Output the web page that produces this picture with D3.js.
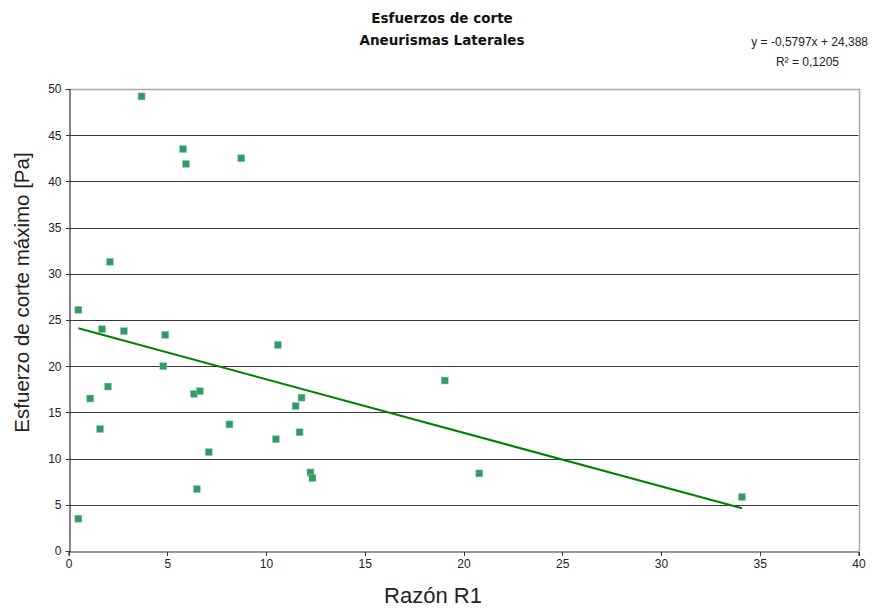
<!DOCTYPE html>
<html>
<head>
<meta charset="utf-8">
<script src="https://cdn.jsdelivr.net/npm/d3@7"></script>
<style>
  html, body { margin: 0; padding: 0; background: #fff; }
  svg { display: block; }
  text { font-family: "Liberation Sans", Arial, sans-serif; }
</style>
</head>
<body>
<svg id="chart" width="872" height="608"></svg>
<script>
// Razón R1 vs. maximum shear stress, lateral aneurysms
const razonR1 = [
  0.5, 1.7, 2.8, 4.9, 4.8, 10.6, 1.1, 2.0, 1.6, 6.35,
  6.65, 7.1, 8.15, 6.5, 0.5, 10.5, 11.5, 11.8, 11.7, 12.25,
  12.35, 3.7, 5.8, 5.95, 8.75, 2.1, 19.05, 20.8, 34.1
];
const esfuerzoMax = [
  26.1, 24.0, 23.8, 23.4, 20.0, 22.3, 16.5, 17.8, 13.2, 17.0,
  17.3, 10.7, 13.7, 6.7, 3.5, 12.1, 15.7, 16.6, 12.85, 8.5,
  7.9, 49.2, 43.5, 41.9, 42.5, 31.3, 18.45, 8.4, 5.85
];
const xTicks = [0, 5, 10, 15, 20, 25, 30, 35, 40];
const yTicks = [0, 5, 10, 15, 20, 25, 30, 35, 40, 45, 50];

// Linear trend line as reported on the chart
const trendSlope = -0.5797;
const trendIntercept = 24.388;
const trendLabel = "y = -0,5797x + 24,388";
const r2Label = "R\u00B2 = 0,1205";

const titleLines = ["Esfuerzos de corte", "Aneurismas Laterales"];
const xTitle = "Razón R1";
const yTitle = "Esfuerzo de corte máximo [Pa]";

const svg = d3.select("#chart");

const plot = { left: 68.5, right: 858.5, top: 89, bottom: 551 };

const x = d3.scaleLinear().domain([0, 40]).range([plot.left, plot.right]);
const y = d3.scaleLinear().domain([0, 50]).range([plot.bottom, plot.top]);

// horizontal gridlines
svg.append("g")
  .selectAll("line")
  .data(yTicks.filter(d => d > 0 && d < 50))
  .join("line")
  .attr("x1", plot.left).attr("x2", plot.right)
  .attr("y1", d => Math.round(y(d)) + 0.5)
  .attr("y2", d => Math.round(y(d)) + 0.5)
  .attr("stroke", "#3a3a3a")
  .attr("stroke-width", 1);

// plot-area frame (top and right)
svg.append("path")
  .attr("d", `M${plot.left},${Math.round(y(50)) + 0.5}H${Math.round(plot.right) + 0.5}V${plot.bottom}`)
  .attr("fill", "none")
  .attr("stroke", "#a8a8a8")
  .attr("stroke-width", 1.5);

// axes
const xAxis = d3.axisBottom(x).tickValues(xTicks).tickSize(4).tickPadding(4)
  .tickFormat(d3.format("d"));
const yAxis = d3.axisLeft(y).tickValues(yTicks).tickSize(4).tickPadding(4)
  .tickFormat(d3.format("d"));

const gx = svg.append("g")
  .attr("transform", `translate(0,${Math.round(plot.bottom) + 0.5})`)
  .call(xAxis);
const gy = svg.append("g")
  .attr("transform", `translate(${Math.round(plot.left) + 0.5},0)`)
  .call(yAxis);

[gx, gy].forEach(g => {
  g.select(".domain").attr("stroke", "#333").attr("stroke-width", 1.2);
  g.selectAll(".tick line").attr("stroke", "#333");
  g.selectAll(".tick text")
    .attr("fill", "#222")
    .style("font-family", "'Liberation Sans', Arial, sans-serif")
    .style("font-size", "12px");
});
gy.selectAll(".tick line").attr("shape-rendering", "crispEdges");
gx.selectAll(".tick line").attr("shape-rendering", "crispEdges");

// trend line across the data range
const [xMin, xMax] = d3.extent(razonR1);
const line = d3.line().x(d => x(d)).y(d => y(trendSlope * d + trendIntercept));
svg.append("path")
  .datum([xMin, xMax])
  .attr("d", line)
  .attr("fill", "none")
  .attr("stroke", "#008000")
  .attr("stroke-width", 2);

// data points
const pts = d3.zip(razonR1, esfuerzoMax);
const size = 7;
svg.append("g")
  .selectAll("rect")
  .data(pts)
  .join("rect")
  .attr("x", d => x(d[0]) - size / 2)
  .attr("y", d => y(d[1]) - size / 2)
  .attr("width", size)
  .attr("height", size)
  .attr("fill", "#339966")
  .attr("stroke", "#8fd0b0")
  .attr("stroke-width", 0.5);

// titles
svg.append("g")
  .selectAll("text")
  .data(titleLines)
  .join("text")
  .attr("x", 442)
  .attr("y", (d, i) => 23 + i * 22)
  .attr("text-anchor", "middle")
  .style("font-family", "'DejaVu Sans', Verdana, sans-serif")
  .style("font-weight", "bold")
  .style("font-size", "13.5px")
  .attr("fill", "#111")
  .text(d => d);

// regression equation
svg.append("text")
  .attr("x", 868).attr("y", 46)
  .attr("text-anchor", "end")
  .style("font-size", "12px")
  .attr("fill", "#222")
  .text(trendLabel);
svg.append("text")
  .attr("x", 839).attr("y", 66)
  .attr("text-anchor", "end")
  .style("font-size", "12px")
  .attr("fill", "#222")
  .text(r2Label);

// axis titles
svg.append("text")
  .attr("x", 433).attr("y", 603)
  .attr("text-anchor", "middle")
  .style("font-size", "22px")
  .attr("fill", "#222")
  .text(xTitle);

svg.append("text")
  .attr("transform", "translate(29,292.5) rotate(-90)")
  .attr("text-anchor", "middle")
  .style("font-size", "20.5px")
  .attr("fill", "#222")
  .text(yTitle);
</script>
</body>
</html>
